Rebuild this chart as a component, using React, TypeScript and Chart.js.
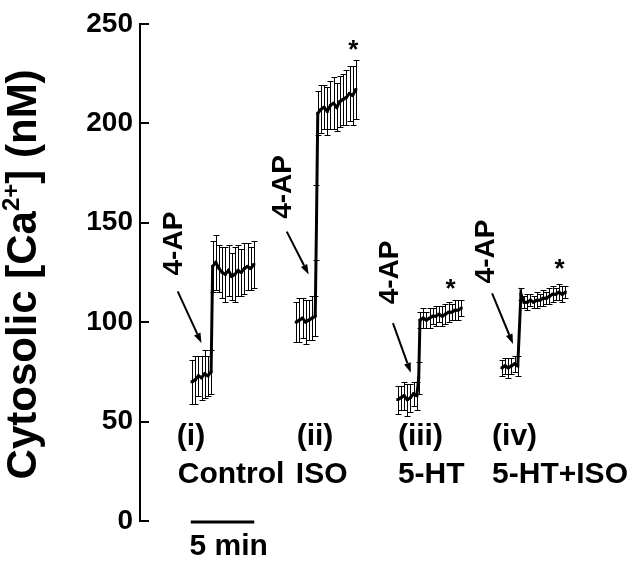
import React, { useEffect, useRef } from "react";
import { Chart, registerables } from "chart.js";

Chart.register(...registerables);

const FONT = '"Liberation Sans", Arial, Helvetica, sans-serif';

// (i) Control
const controlTime = [4.1, 4.35, 4.6, 4.85, 5.1, 5.35, 5.6, 5.72, 5.97, 6.22, 6.47, 6.72, 6.97, 7.22, 7.47, 7.72, 7.97, 8.22, 8.47, 8.72, 8.97];
const controlMean = [70, 71, 73, 72, 74, 73, 75, 128, 130, 127, 125, 124, 126, 123, 124, 126, 125, 127, 128, 127, 129];
const controlSem = [11, 12, 10, 11, 12, 10, 11, 13, 14, 12, 13, 14, 13, 12, 14, 13, 12, 13, 12, 11, 12];

// (ii) ISO
const isoTime = [12.3, 12.55, 12.8, 13.05, 13.3, 13.55, 13.8, 13.9, 14.0, 14.25, 14.5, 14.75, 15.0, 15.25, 15.5, 15.75, 16.0, 16.25, 16.5, 16.75, 17.0];
const isoMean = [100, 101, 102, 100, 101, 102, 103, 150, 205, 207, 208, 206, 209, 210, 208, 211, 212, 213, 215, 214, 217];
const isoSem = [10, 11, 10, 11, 10, 11, 10, 19, 11, 12, 11, 12, 12, 13, 12, 13, 13, 14, 14, 15, 15];

// (iii) 5-HT
const htTime = [20.3, 20.55, 20.8, 21.05, 21.3, 21.55, 21.8, 21.95, 22.05, 22.3, 22.55, 22.8, 23.05, 23.3, 23.55, 23.8, 24.05, 24.3, 24.55, 24.8, 25.05, 25.3];
const htMean = [61, 62, 63, 61, 62, 64, 63, 72, 101, 102, 101, 102, 103, 103, 104, 103, 104, 105, 105, 106, 106, 107];
const htSem = [7, 6, 7, 8, 7, 6, 7, 8, 4, 5, 4, 5, 4, 5, 4, 5, 5, 5, 4, 5, 5, 4];

// (iv) 5-HT+ISO
const htIsoTime = [28.5, 28.75, 29.0, 29.25, 29.5, 29.75, 30.0, 30.25, 30.5, 30.75, 31.0, 31.25, 31.5, 31.75, 32.0, 32.25, 32.5, 32.75, 33.0, 33.25, 33.5];
const htIsoMean = [77, 78, 77, 78, 79, 78, 114, 110, 110, 111, 110, 111, 111, 112, 112, 113, 114, 114, 115, 114, 115];
const htIsoSem = [4, 4, 5, 4, 4, 5, 3, 3, 4, 3, 3, 4, 3, 4, 3, 4, 4, 3, 4, 4, 3];

const yTicks = [0, 50, 100, 150, 200, 250];
const panelLabels = ["(i)", "(ii)", "(iii)", "(iv)"];
const conditionLabels = ["Control", "ISO", "5-HT", "5-HT+ISO"];
const drugLabel = "4-AP";
const scaleBarLabel = "5 min";
const scaleBarMinutes = 5;

// annotation anchors in data units (minutes, nM)
const labelAnchors = [
  { t: 2.9, t2: 2.97 },
  { t: 12.34, t2: 12.27 },
  { t: 20.31, t2: 20.31 },
  { t: 27.73, t2: 27.73 },
];
const drugTextAnchors = [
  { t: 3.28, v: 139.5 },
  { t: 11.88, v: 168 },
  { t: 20.31, v: 125 },
  { t: 27.89, v: 135.5 },
];
const arrowAnchors = [
  { t1: 2.97, v1: 115.5, t2: 4.84, v2: 89.5 },
  { t1: 11.56, v1: 145.5, t2: 13.28, v2: 124 },
  { t1: 19.92, v1: 99.5, t2: 21.33, v2: 74.5 },
  { t1: 27.73, v1: 114.5, t2: 29.38, v2: 89 },
];
const starAnchors = [
  { t: 16.8, v: 239.5 },
  { t: 24.45, v: 119 },
  { t: 33.05, v: 129 },
];

const panels = [
  { time: controlTime, mean: controlMean, sem: controlSem },
  { time: isoTime, mean: isoMean, sem: isoSem },
  { time: htTime, mean: htMean, sem: htSem },
  { time: htIsoTime, mean: htIsoMean, sem: htIsoSem },
];

function drawArrow(ctx: CanvasRenderingContext2D, x1: number, y1: number, x2: number, y2: number) {
  const ang = Math.atan2(y2 - y1, x2 - x1);
  const head = 10;
  const hw = 3.5;
  const c = Math.cos(ang);
  const s = Math.sin(ang);
  const bx = x2 - head * c;
  const by = y2 - head * s;
  ctx.lineWidth = 2;
  ctx.beginPath();
  ctx.moveTo(x1, y1);
  ctx.lineTo(bx, by);
  ctx.stroke();
  ctx.beginPath();
  ctx.moveTo(x2, y2);
  ctx.lineTo(bx + hw * s, by - hw * c);
  ctx.lineTo(bx - hw * s, by + hw * c);
  ctx.closePath();
  ctx.fill();
}

const annotatePlugin = {
  id: "annotate",
  beforeDatasetsDraw(chart: any) {
    const ctx: CanvasRenderingContext2D = chart.ctx;
    const xs = chart.scales.x;
    const ys = chart.scales.y;
    ctx.save();
    ctx.strokeStyle = "#000";
    ctx.lineWidth = 1;
    panels.forEach((p) => {
      p.time.forEach((t, i) => {
        const x = Math.round(xs.getPixelForValue(t)) + 0.5;
        const yTop = Math.round(ys.getPixelForValue(p.mean[i] + p.sem[i])) + 0.5;
        const yBot = Math.round(ys.getPixelForValue(p.mean[i] - p.sem[i])) + 0.5;
        ctx.beginPath();
        ctx.moveTo(x, yTop);
        ctx.lineTo(x, yBot);
        ctx.moveTo(x - 3, yTop);
        ctx.lineTo(x + 3, yTop);
        ctx.moveTo(x - 3, yBot);
        ctx.lineTo(x + 3, yBot);
        ctx.stroke();
      });
    });
    ctx.restore();
  },
  afterDraw(chart: any) {
    const ctx: CanvasRenderingContext2D = chart.ctx;
    const xs = chart.scales.x;
    const ys = chart.scales.y;
    const area = chart.chartArea;
    ctx.save();
    ctx.fillStyle = "#000";
    ctx.strokeStyle = "#000";

    // inward tick marks
    ctx.lineWidth = 2;
    yTicks.forEach((v) => {
      const y = Math.round(ys.getPixelForValue(v));
      ctx.beginPath();
      ctx.moveTo(area.left, y);
      ctx.lineTo(area.left + 9, y);
      ctx.stroke();
    });

    // y-axis title with superscript
    ctx.save();
    ctx.translate(36, (area.top + area.bottom) / 2 + 2);
    ctx.rotate(-Math.PI / 2);
    const pieces = [
      { t: "Cytosolic [Ca", f: `bold 42px ${FONT}`, dy: 0 },
      { t: "2+", f: `bold 24px ${FONT}`, dy: -17 },
      { t: "] (nM)", f: `bold 42px ${FONT}`, dy: 0 },
    ];
    let total = 0;
    pieces.forEach((p) => {
      ctx.font = p.f;
      total += ctx.measureText(p.t).width;
    });
    let cx = -total / 2;
    ctx.textAlign = "left";
    ctx.textBaseline = "alphabetic";
    pieces.forEach((p) => {
      ctx.font = p.f;
      ctx.fillText(p.t, cx, p.dy);
      cx += ctx.measureText(p.t).width;
    });
    ctx.restore();

    // 4-AP rotated labels
    ctx.font = `bold 28px ${FONT}`;
    drugTextAnchors.forEach((a) => {
      ctx.save();
      ctx.translate(xs.getPixelForValue(a.t), ys.getPixelForValue(a.v));
      ctx.rotate(-Math.PI / 2);
      ctx.textAlign = "center";
      ctx.textBaseline = "alphabetic";
      ctx.fillText(drugLabel, 0, 0);
      ctx.restore();
    });

    // arrows
    arrowAnchors.forEach((a) => {
      drawArrow(
        ctx,
        xs.getPixelForValue(a.t1),
        ys.getPixelForValue(a.v1),
        xs.getPixelForValue(a.t2),
        ys.getPixelForValue(a.v2)
      );
    });

    // significance stars
    ctx.font = `bold 26px ${FONT}`;
    ctx.textAlign = "center";
    ctx.textBaseline = "alphabetic";
    const m = ctx.measureText("*");
    const off = (m.actualBoundingBoxAscent - m.actualBoundingBoxDescent) / 2;
    starAnchors.forEach((a) => {
      ctx.fillText("*", xs.getPixelForValue(a.t), ys.getPixelForValue(a.v) + off);
    });

    // panel and condition labels
    ctx.font = `bold 30px ${FONT}`;
    ctx.textAlign = "left";
    labelAnchors.forEach((a, i) => {
      ctx.fillText(panelLabels[i], xs.getPixelForValue(a.t), ys.getPixelForValue(38));
      ctx.fillText(conditionLabels[i], xs.getPixelForValue(a.t2), ys.getPixelForValue(19));
    });

    // scale bar
    const sx1 = xs.getPixelForValue(4.0);
    const sx2 = xs.getPixelForValue(4.0 + scaleBarMinutes);
    const sy = ys.getPixelForValue(-0.5);
    ctx.lineWidth = 3;
    ctx.beginPath();
    ctx.moveTo(sx1, sy);
    ctx.lineTo(sx2, sy);
    ctx.stroke();
    ctx.fillText(scaleBarLabel, xs.getPixelForValue(3.9), ys.getPixelForValue(-17));

    ctx.restore();
  },
};

export default function App() {
  const canvasRef = useRef<HTMLCanvasElement | null>(null);

  useEffect(() => {
    if (!canvasRef.current) return;
    const chart = new Chart(canvasRef.current, {
      type: "line",
      data: {
        datasets: panels.map((p, k) => ({
          label: conditionLabels[k],
          data: p.time.map((t, i) => ({ x: t, y: p.mean[i] })),
          borderColor: "#000",
          backgroundColor: "#000",
          borderWidth: 3,
          pointRadius: 2,
          pointStyle: "rect",
          pointBackgroundColor: "#000",
          pointBorderWidth: 0,
          tension: 0,
          fill: false,
        })),
      },
      options: {
        responsive: false,
        animation: false,
        layout: { padding: { top: 20, bottom: 40, left: 0, right: 0 } },
        plugins: {
          legend: { display: false },
          tooltip: { enabled: false },
        },
        scales: {
          x: { type: "linear", min: 0, max: 39.0625, display: false },
          y: {
            min: 0,
            max: 250,
            afterBuildTicks: (scale: any) => {
              scale.ticks = yTicks.map((v) => ({ value: v }));
            },
            ticks: {
              color: "#000",
              padding: 7,
              font: { family: FONT, size: 28, weight: "bold" },
            },
            grid: { display: false, drawTicks: false },
            border: { display: true, color: "#000", width: 2 },
            afterFit: (scale: any) => {
              scale.width = 140;
            },
          },
        },
      },
      plugins: [annotatePlugin],
    } as any);
    return () => chart.destroy();
  }, []);

  return (
    <div style={{ position: "absolute", left: 0, top: 0, width: 640, height: 561, background: "#fff" }}>
      <canvas ref={canvasRef} width={640} height={561} />
    </div>
  );
}
